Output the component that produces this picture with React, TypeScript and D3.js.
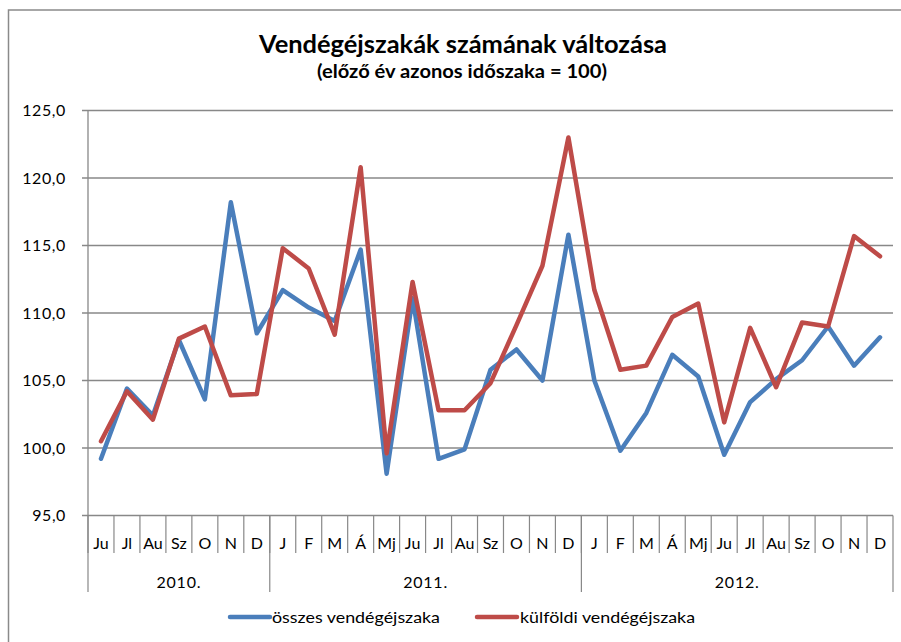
import React from "react";
import * as d3 from "d3";

const months = ["Ju","Jl","Au","Sz","O","N","D","J","F","M","Á","Mj","Ju","Jl","Au","Sz","O","N","D","J","F","M","Á","Mj","Ju","Jl","Au","Sz","O","N","D"];
const years = ["2010.", "2011.", "2012."];
const yearMonthCounts = [7, 12, 12];
const osszes = [99.2,104.4,102.4,108.0,103.6,118.2,108.5,111.7,110.4,109.4,114.7,98.1,111.1,99.2,99.9,105.8,107.3,105.0,115.8,105.0,99.8,102.6,106.9,105.3,99.5,103.4,105.1,106.5,109.0,106.1,108.2];
const kulfoldi = [100.5,104.2,102.1,108.1,109.0,103.9,104.0,114.8,113.3,108.4,120.8,99.6,112.3,102.8,102.8,104.8,109.1,113.5,123.0,111.7,105.8,106.1,109.7,110.7,101.9,108.9,104.5,109.3,109.0,115.7,114.2];
const yTicks = [95, 100, 105, 110, 115, 120, 125];
const seriesNames = ["összes vendégéjszaka", "külföldi vendégéjszaka"];
const seriesColors = ["#4A7EBB", "#BE4B48"];
const titleText = "Vendégéjszakák számának változása";
const subtitleText = "(előző év azonos időszaka = 100)";

const FONT = "Lato, 'Open Sans', sans-serif";

export default function App() {
  const left = 88, right = 893, top = 110.5, bottom = 515.5;
  const idx = months.map((_, i) => i);
  const x = d3.scaleBand<number>().domain(idx).range([left, right]).paddingInner(0).paddingOuter(0);
  const y = d3.scaleLinear().domain([95, 125]).range([bottom, top]);
  const line = d3.line<number>().x((_, i) => (x(i) as number) + x.bandwidth() / 2).y((d) => y(d));
  const gridColor = "#888888";
  const fmt = (v: number) => v.toFixed(1).replace(".", ",");

  const yearStarts: number[] = [];
  let acc = 0;
  yearMonthCounts.forEach((c) => { yearStarts.push(acc); acc += c; });

  return (
    <svg width={901} height={642} style={{ position: "absolute", left: 0, top: 0, background: "#fff" }} fontFamily={FONT}>
      <path d="M8.5,642 L8.5,10 L901,10" fill="none" stroke="#8a8a8a" strokeWidth={1.5} />
      <text x={463} y={53} textAnchor="middle" fontSize={24} fontWeight="bold" fill="#000" textLength={408} lengthAdjust="spacingAndGlyphs">{titleText}</text>
      <text x={462} y={78} textAnchor="middle" fontSize={18} fontWeight="bold" fill="#000" textLength={290} lengthAdjust="spacingAndGlyphs">{subtitleText}</text>
      {yTicks.map((t) => (
        <g key={t}>
          <line x1={82} x2={right} y1={y(t)} y2={y(t)} stroke={gridColor} strokeWidth={1.3} />
          <text x={66} y={y(t) + 5.5} textAnchor="end" fontSize={16} letterSpacing={0.6} fill="#000">{fmt(t)}</text>
        </g>
      ))}
      <line x1={left} x2={left} y1={top} y2={bottom} stroke={gridColor} strokeWidth={1.3} />
      {idx.map((i) => (
        <line key={"s" + i} x1={x(i) as number} x2={x(i) as number} y1={bottom} y2={553} stroke={gridColor} strokeWidth={1.2} />
      ))}
      {[...yearStarts, months.length].map((s, k) => {
        const xx = s < months.length ? (x(s) as number) : right;
        return <line key={"y" + k} x1={xx} x2={xx} y1={bottom} y2={592} stroke={gridColor} strokeWidth={1.2} />;
      })}
      {months.map((m, i) => (
        <text key={"m" + i} x={(x(i) as number) + x.bandwidth() / 2} y={549} textAnchor="middle" fontSize={16} fill="#000">{m}</text>
      ))}
      {years.map((yr, k) => {
        const s = yearStarts[k];
        const e = s + yearMonthCounts[k];
        const x0 = x(s) as number;
        const x1 = e < months.length ? (x(e) as number) : right;
        return <text key={yr} x={(x0 + x1) / 2} y={588} textAnchor="middle" fontSize={16} letterSpacing={0.8} fill="#000">{yr}</text>;
      })}
      {[osszes, kulfoldi].map((s, k) => (
        <path key={"l" + k} d={line(s) || ""} fill="none" stroke={seriesColors[k]} strokeWidth={4.5} strokeLinejoin="round" strokeLinecap="round" />
      ))}
      {[{ x0: 230, tx: 272, w: 168 }, { x0: 477, tx: 520, w: 175 }].map((p, k) => (
        <g key={"lg" + k}>
          <line x1={p.x0} x2={p.x0 + 40} y1={617} y2={617} stroke={seriesColors[k]} strokeWidth={4.5} strokeLinecap="round" />
          <text x={p.tx} y={622.5} fontSize={16} fill="#000" textLength={p.w} lengthAdjust="spacingAndGlyphs">{seriesNames[k]}</text>
        </g>
      ))}
    </svg>
  );
}
